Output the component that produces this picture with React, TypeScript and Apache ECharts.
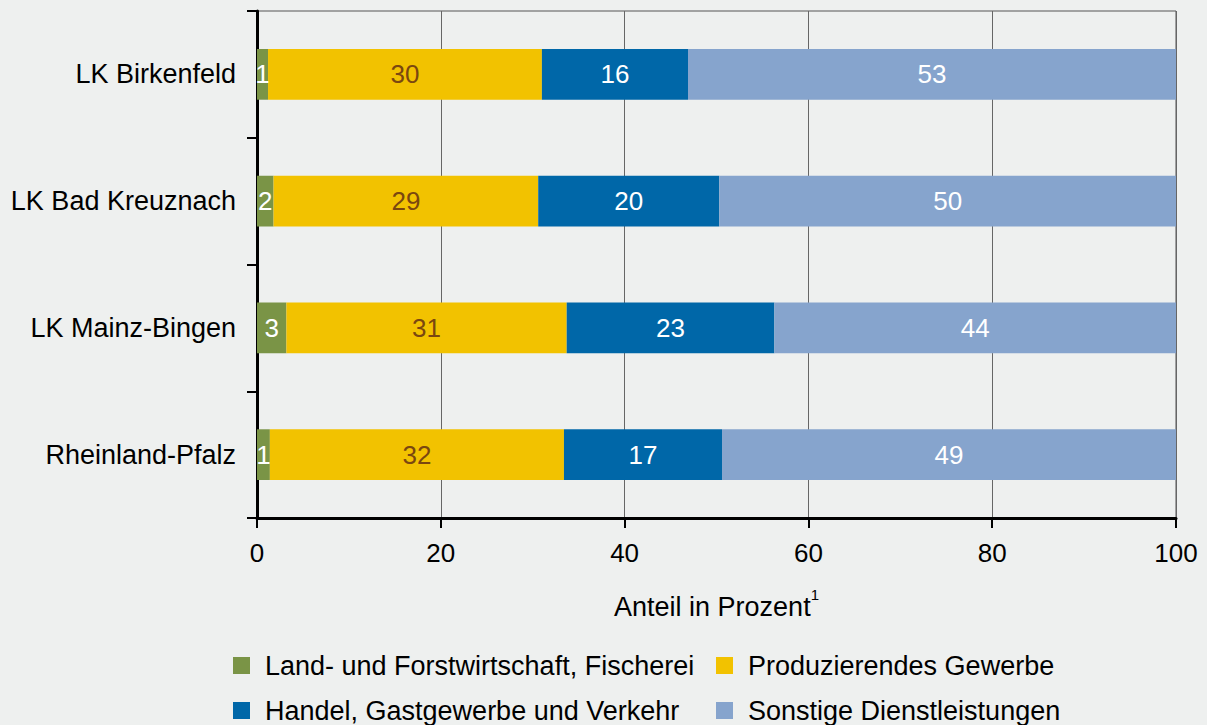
import React, { useEffect, useRef } from "react";
import * as echarts from "echarts";

const categories = ["LK Birkenfeld", "LK Bad Kreuznach", "LK Mainz-Bingen", "Rheinland-Pfalz"];
const seriesNames = [
  "Land- und Forstwirtschaft, Fischerei",
  "Produzierendes Gewerbe",
  "Handel, Gastgewerbe und Verkehr",
  "Sonstige Dienstleistungen",
];
const landwirtschaft = [1.2, 1.8, 3.2, 1.4];
const produzierend = [29.8, 28.8, 30.5, 32.0];
const handel = [15.9, 19.7, 22.6, 17.2];
const sonstige = [53.1, 49.7, 43.7, 49.4];
const xTicks = [0, 20, 40, 60, 80, 100];

const colors = ["#7a9446", "#f2c200", "#0067a8", "#86a4cd"];
const labelColors = ["#ffffff", "#7a4710", "#ffffff", "#ffffff"];
const FONT = "'Liberation Sans', Arial, sans-serif";

// legend placement: [left, top] for each series' legend entry
const legendPos = [
  [233, 652],
  [716, 652],
  [233, 697],
  [716, 697],
];

export default function App() {
  const ref = useRef<HTMLDivElement>(null);
  useEffect(() => {
    if (!ref.current) return;
    const chart = echarts.init(ref.current, undefined, { renderer: "svg" });
    const values = [landwirtschaft, produzierend, handel, sonstige];
    const series = values.map((d, i) => ({
      name: seriesNames[i],
      type: "bar",
      stack: "total",
      barWidth: "40%",
      data: d,
      itemStyle: { color: colors[i] },
      label: {
        show: true,
        position: "inside",
        color: labelColors[i],
        fontSize: 26,
        fontFamily: FONT,
        formatter: (p: any) => String(Math.round(p.value)),
      },
    }));
    const legends = seriesNames.map((n, i) => ({
      data: [n],
      orient: "horizontal",
      left: legendPos[i][0],
      top: legendPos[i][1],
      padding: 0,
      itemWidth: 17,
      itemHeight: 17,
      icon: "rect",
      textStyle: {
        fontSize: 27,
        color: "#000",
        fontFamily: FONT,
        lineHeight: 27,
        padding: [0, 0, 0, 10],
      },
    }));
    chart.setOption({
      animation: false,
      backgroundColor: "#eef0ef",
      textStyle: { fontFamily: FONT },
      grid: {
        left: 257,
        right: 31,
        top: 11,
        bottom: 207,
        show: true,
        borderColor: "#555",
        borderWidth: 1,
        backgroundColor: "transparent",
      },
      legend: legends,
      xAxis: {
        type: "value",
        min: xTicks[0],
        max: xTicks[xTicks.length - 1],
        interval: 20,
        name: "Anteil in Prozent{s|1}",
        nameLocation: "middle",
        nameGap: 69,
        nameTextStyle: {
          fontSize: 27,
          lineHeight: 40,
          color: "#000",
          fontFamily: FONT,
          rich: {
            s: { fontSize: 15, lineHeight: 15, color: "#000", fontFamily: FONT, verticalAlign: "top" },
          },
        },
        axisLine: { show: true, lineStyle: { color: "#000", width: 3 } },
        axisTick: { show: true, length: 10, lineStyle: { color: "#000", width: 2 } },
        axisLabel: { fontSize: 26, color: "#000", margin: 22, fontFamily: FONT },
        splitLine: { show: true, lineStyle: { color: "#666", width: 1 } },
      },
      yAxis: {
        type: "category",
        data: categories,
        inverse: true,
        axisLine: { show: true, lineStyle: { color: "#000", width: 3 } },
        axisTick: { show: true, length: 10, lineStyle: { color: "#000", width: 2 } },
        axisLabel: { fontSize: 27, color: "#000", margin: 21, fontFamily: FONT },
        splitLine: { show: false },
      },
      series,
    });
    return () => chart.dispose();
  }, []);
  return <div ref={ref} style={{ position: "absolute", left: 0, top: 0, width: 1207, height: 725 }} />;
}
